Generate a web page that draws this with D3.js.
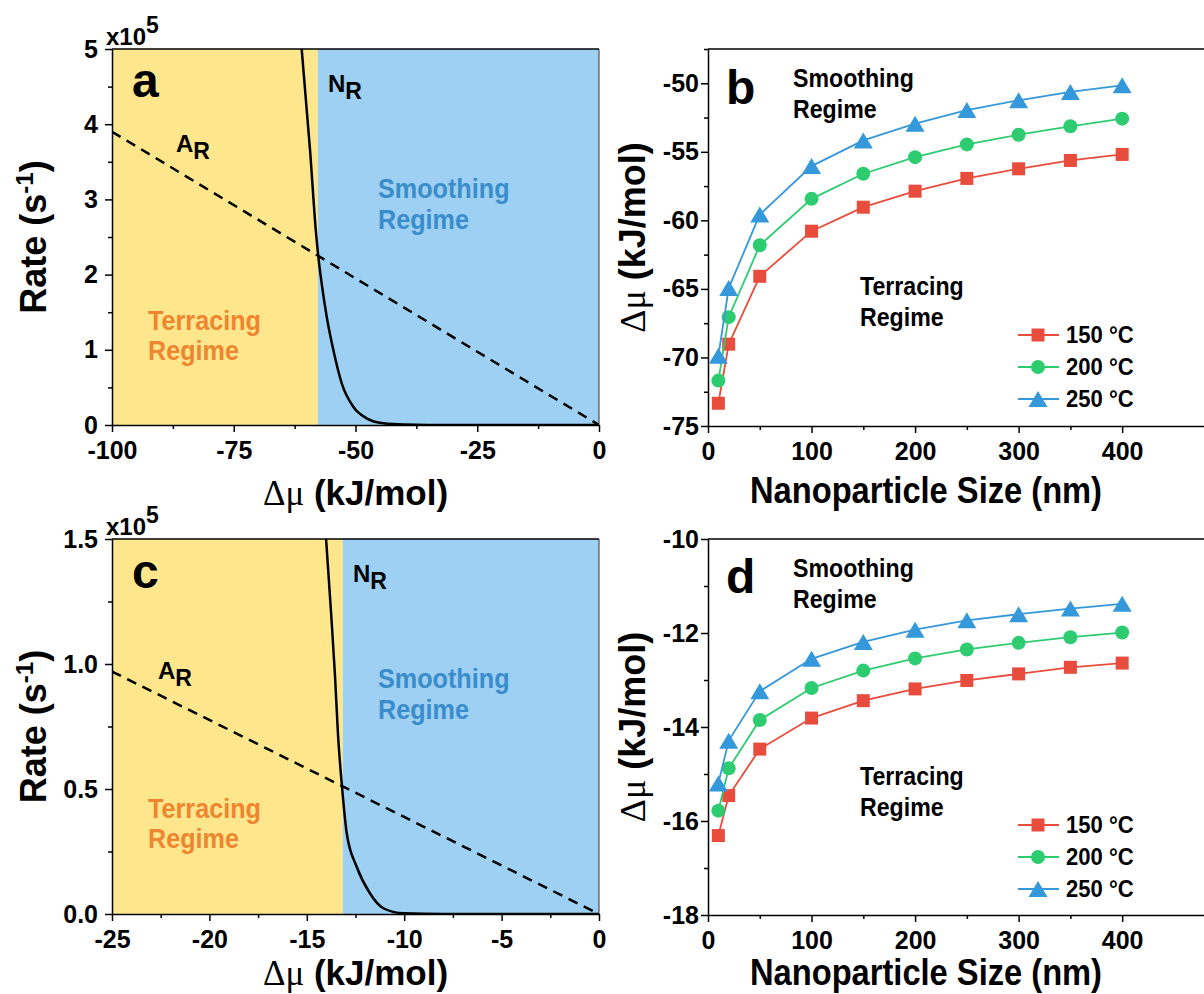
<!DOCTYPE html>
<html>
<head>
<meta charset="utf-8">
<script src="https://cdn.jsdelivr.net/npm/d3@7"></script>
<style>
  body { margin: 0; background: #fff; }
  svg text { font-family: "Liberation Sans", Arial, sans-serif; font-weight: bold; }
  .axis path, .axis line { stroke: #000; stroke-width: 1.5; }
  .axis text { font-size: 25px; fill: #000; }
  .ar-line { fill: none; stroke: #000; stroke-width: 2.5; stroke-dasharray: 10,7; }
  .nr-line { fill: none; stroke: #000; stroke-width: 2.5; }
  .series-line { fill: none; stroke-width: 1.8; }
</style>
</head>
<body>
<svg id="fig" width="1204" height="994"></svg>
<script>
// --- data ---

// panel a: rates (x10^5 s-1) vs delta mu (kJ/mol)
const arA_mu = [-100, 0];
const arA_rate = [3.9, 0];
const nrA_mu = [-61.05, -59.34, -58.1, -57.6, -56.94, -55.91, -54.56, -52.83, -50.45, -47.7, -44.3, -40, -35, 0];
const nrA_rate = [5.0, 3.66, 2.55, 2.22, 1.88, 1.44, 1.0, 0.555, 0.243, 0.089, 0.023, 0.005, 0, 0];
const boundA = -57.75;

// panel c
const arC_mu = [-25, 0];
const arC_rate = [0.97, 0];
const nrC_mu = [-14.01, -13.75, -13.55, -13.4, -13.2, -12.95, -12.44, -11.76, -11.07, -10.05, -8, 0];
const nrC_rate = [1.5, 1.2, 0.95, 0.72, 0.516, 0.323, 0.189, 0.083, 0.023, 0.003, 0, 0];
const boundC = -13.15;

// panels b, d: critical delta mu vs nanoparticle size
const sizes = [10, 20, 50, 100, 150, 200, 250, 300, 350, 400];
const temps = ['150 °C', '200 °C', '250 °C'];
const b150 = [-73.34, -69.03, -64.08, -60.79, -59.04, -57.87, -56.94, -56.24, -55.63, -55.19];
const b200 = [-71.69, -67.06, -61.82, -58.43, -56.60, -55.39, -54.46, -53.75, -53.14, -52.58];
const b250 = [-69.88, -64.94, -59.58, -56.04, -54.17, -52.95, -51.95, -51.24, -50.63, -50.15];
const d150 = [-16.31, -15.46, -14.47, -13.81, -13.44, -13.19, -13.01, -12.87, -12.73, -12.64];
const d200 = [-15.78, -14.88, -13.85, -13.17, -12.80, -12.54, -12.35, -12.21, -12.09, -11.99];
const d250 = [-15.20, -14.29, -13.24, -12.55, -12.19, -11.93, -11.73, -11.60, -11.48, -11.38];

// ticks
const ticksA_x = [-100, -75, -50, -25, 0], minorA_x = [-87.5, -62.5, -37.5, -12.5];
const ticksA_y = [0, 1, 2, 3, 4, 5], minorA_y = [0.5, 1.5, 2.5, 3.5, 4.5];
const ticksC_x = [-25, -20, -15, -10, -5, 0], minorC_x = [-22.5, -17.5, -12.5, -7.5, -2.5];
const ticksC_y = [0, 0.5, 1.0, 1.5], minorC_y = [0.25, 0.75, 1.25];
const ticksSize = [0, 100, 200, 300, 400], minorSize = [50, 150, 250, 350];
const ticksB_y = [-75, -70, -65, -60, -55, -50], minorB_y = [-72.5, -67.5, -62.5, -57.5, -52.5, -47.5];
const ticksD_y = [-18, -16, -14, -12, -10], minorD_y = [-17, -15, -13, -11];

const YELLOW = '#fee68c', BLUE = '#9ed0f3';
const ORANGE_TXT = '#ee8631', BLUE_TXT = '#3a8dcb';
const SERIES_COLORS = ['#e74c3c', '#2ecc71', '#3498db'];

const svg = d3.select('#fig');

function addText(g, x, y, txt, size, fill, sx = 1) {
  return g.append('text')
    .attr('transform', `translate(${x},${y}) scale(${sx},1)`)
    .attr('font-size', size).attr('fill', fill)
    .text(txt);
}

function subLabel(g, x, y, main, sub) {
  const t = g.append('text').attr('x', x).attr('y', y).attr('font-size', 24);
  t.append('tspan').text(main);
  t.append('tspan').attr('dy', 7).attr('font-size', 23).text(sub);
}

function muTitle(t) {
  t.append('tspan').attr('font-family', '"Liberation Serif", serif').attr('font-weight', 'normal').text('Δμ');
  t.append('tspan').text(' (kJ/mol)');
}

function drawAxes(g, x, y, o) {
  const bottom = y.range()[0];
  const left = x.range()[0];
  g.append('g').attr('class', 'axis').attr('transform', `translate(0,${bottom})`)
    .call(d3.axisBottom(x).tickValues(o.xMinor).tickSize(4).tickFormat(''))
    .select('.domain').remove();
  g.append('g').attr('class', 'axis').attr('transform', `translate(0,${bottom})`)
    .call(d3.axisBottom(x).tickValues(o.xTicks).tickSize(7).tickSizeOuter(0)
      .tickPadding(9).tickFormat(d => String(d)));
  g.append('g').attr('class', 'axis').attr('transform', `translate(${left},0)`)
    .call(d3.axisLeft(y).tickValues(o.yMinor).tickSize(4).tickFormat(''))
    .select('.domain').remove();
  g.append('g').attr('class', 'axis').attr('transform', `translate(${left},0)`)
    .call(d3.axisLeft(y).tickValues(o.yTicks).tickSize(7).tickSizeOuter(0)
      .tickPadding(o.yPad).tickFormat(o.yFormat));
}

function rateChart(o) {
  const g = svg.append('g');
  const x = d3.scaleLinear().domain(o.xDomain).range([112, 599]);
  const y = d3.scaleLinear().domain(o.yDomain).range(o.yRange);
  const L = x.range()[0], R = x.range()[1], T = y.range()[1], B = y.range()[0];

  g.append('rect').attr('x', L).attr('y', T)
    .attr('width', x(o.bound) - L).attr('height', B - T).attr('fill', YELLOW);
  g.append('rect').attr('x', x(o.bound)).attr('y', T)
    .attr('width', R - x(o.bound)).attr('height', B - T).attr('fill', BLUE);

  const clipId = 'clip' + o.letter;
  g.append('clipPath').attr('id', clipId)
    .append('rect').attr('x', L).attr('y', T - 1).attr('width', R - L).attr('height', B - T + 2);

  const arData = o.arMu.map((m, i) => [m, o.arRate[i]]);
  const nrData = o.nrMu.map((m, i) => [m, o.nrRate[i]]);

  g.append('path').datum(arData).attr('class', 'ar-line').attr('clip-path', `url(#${clipId})`)
    .attr('d', d3.line().x(d => x(d[0])).y(d => y(d[1])));
  g.append('path').datum(nrData).attr('class', 'nr-line').attr('clip-path', `url(#${clipId})`)
    .attr('d', d3.line().curve(d3.curveMonotoneX).x(d => x(d[0])).y(d => y(d[1])));

  // frame
  g.append('line').attr('x1', L).attr('x2', R).attr('y1', T).attr('y2', T)
    .attr('stroke', '#000').attr('stroke-width', 1.5);
  g.append('line').attr('x1', R).attr('x2', R).attr('y1', T).attr('y2', B)
    .attr('stroke', '#333').attr('stroke-width', 1);

  drawAxes(g, x, y, o);

  // labels
  addText(g, L + 20, T + o.letterY, o.letter, 48, '#000');
  subLabel(g, L + o.nrPos[0], T + o.nrPos[1], 'N', 'R');
  subLabel(g, L + o.arPos[0], T + o.arPos[1], 'A', 'R');
  addText(g, L + 36, T + o.terrY, 'Terracing', 28, ORANGE_TXT, 0.9);
  addText(g, L + 36, T + o.terrY + 30, 'Regime', 28, ORANGE_TXT, 0.9);
  addText(g, L + 266, T + o.smoothY, 'Smoothing', 28, BLUE_TXT, 0.9);
  addText(g, L + 266, T + o.smoothY + 31, 'Regime', 28, BLUE_TXT, 0.9);

  const ex = g.append('text').attr('x', L - 6).attr('y', T - 4)
    .attr('font-size', 24).attr('font-weight', 'normal');
  ex.append('tspan').text('x10');
  ex.append('tspan').attr('dy', -12).attr('font-size', 23).text('5');

  // axis titles
  const xt = g.append('text').attr('x', (L + R) / 2).attr('y', B + o.xTitleDy)
    .attr('text-anchor', 'middle').attr('font-size', 35);
  muTitle(xt);
  const yt = g.append('text').attr('transform', `translate(46,${(T + B) / 2}) rotate(-90)`)
    .attr('text-anchor', 'middle').attr('font-size', 36);
  yt.append('tspan').text('Rate (s');
  yt.append('tspan').attr('dy', -13).attr('font-size', 24).text('-1');
  yt.append('tspan').attr('dy', 13).text(')');
}

function trianglePath(w, h) {
  return `M0,${-h / 2}L${w / 2},${h / 2}L${-w / 2},${h / 2}Z`;
}

function drawMarker(g, kind, cx, cy, color) {
  if (kind === 0) {
    g.append('rect').attr('x', cx - 6.5).attr('y', cy - 6.5).attr('width', 13).attr('height', 13).attr('fill', color);
  } else if (kind === 1) {
    g.append('circle').attr('cx', cx).attr('cy', cy).attr('r', 7).attr('fill', color);
  } else {
    g.append('path').attr('transform', `translate(${cx},${cy})`).attr('d', trianglePath(19, 16)).attr('fill', color);
  }
}

function regimeChart(o) {
  const g = svg.append('g');
  const x = d3.scaleLinear().domain([0, 480]).range([708, 1205]);
  const y = d3.scaleLinear().domain(o.yDomain).range(o.yRange);
  const L = x.range()[0], R = x.range()[1], T = y.range()[1], B = y.range()[0];

  g.append('line').attr('x1', L).attr('x2', R).attr('y1', T).attr('y2', T)
    .attr('stroke', '#000').attr('stroke-width', 1.5);

  drawAxes(g, x, y, o);

  const lineGen = d3.line().x(d => x(d[0])).y(d => y(d[1]));
  o.series.forEach((vals, k) => {
    const data = sizes.map((s, i) => [s, vals[i]]);
    g.append('path').datum(data).attr('class', 'series-line')
      .attr('stroke', SERIES_COLORS[k]).attr('d', lineGen);
    data.forEach(d => drawMarker(g, k, x(d[0]), y(d[1]), SERIES_COLORS[k]));
  });

  addText(g, L + 18, T + o.letterY, o.letter, 48, '#000');
  addText(g, L + 85, T + 38, 'Smoothing', 26, '#000', 0.89);
  addText(g, L + 85, T + 69, 'Regime', 26, '#000', 0.89);
  addText(g, L + 152, T + 246, 'Terracing', 26, '#000', 0.89);
  addText(g, L + 152, T + 277, 'Regime', 26, '#000', 0.89);

  temps.forEach((t, k) => {
    const ly = T + 286 + k * 32;
    g.append('line').attr('x1', L + 310).attr('x2', L + 351).attr('y1', ly).attr('y2', ly)
      .attr('stroke', SERIES_COLORS[k]).attr('stroke-width', 1.8);
    drawMarker(g, k, L + 330, ly, SERIES_COLORS[k]);
    addText(g, L + 358, ly + 8, t, 24, '#000', 0.92);
  });

  g.append('text').attr('x', 926).attr('y', B + o.xTitleDy).attr('text-anchor', 'middle')
    .attr('font-size', 36).attr('textLength', 352).attr('lengthAdjust', 'spacingAndGlyphs')
    .text('Nanoparticle Size (nm)');
  const yt = g.append('text').attr('transform', `translate(645,${(T + B) / 2}) rotate(-90)`)
    .attr('text-anchor', 'middle').attr('font-size', 36);
  muTitle(yt);
}

rateChart({
  letter: 'a', letterY: 48, xTitleDy: 80,
  xDomain: [-100, 0], yDomain: [0, 5], yRange: [425, 49],
  bound: boundA, arMu: arA_mu, arRate: arA_rate, nrMu: nrA_mu, nrRate: nrA_rate,
  xTicks: ticksA_x, xMinor: minorA_x, yTicks: ticksA_y, yMinor: minorA_y,
  yPad: 7, yFormat: d => String(d),
  nrPos: [216, 43], arPos: [64, 103], terrY: 281, smoothY: 149
});

rateChart({
  letter: 'c', letterY: 49, xTitleDy: 71,
  xDomain: [-25, 0], yDomain: [0, 1.5], yRange: [914, 539],
  bound: boundC, arMu: arC_mu, arRate: arC_rate, nrMu: nrC_mu, nrRate: nrC_rate,
  xTicks: ticksC_x, xMinor: minorC_x, yTicks: ticksC_y, yMinor: minorC_y,
  yPad: 7, yFormat: d => d.toFixed(1),
  nrPos: [241, 43], arPos: [46, 140], terrY: 279, smoothY: 149
});

regimeChart({
  letter: 'b', letterY: 55, xTitleDy: 77,
  yDomain: [-75, -47.5], yRange: [426, 49],
  series: [b150, b200, b250],
  xTicks: ticksSize, xMinor: minorSize, yTicks: ticksB_y, yMinor: minorB_y,
  yPad: 2, yFormat: d => String(d)
});

regimeChart({
  letter: 'd', letterY: 54, xTitleDy: 70,
  yDomain: [-18, -10], yRange: [915, 539],
  series: [d150, d200, d250],
  xTicks: ticksSize, xMinor: minorSize, yTicks: ticksD_y, yMinor: minorD_y,
  yPad: 2, yFormat: d => String(d)
});
</script>
</body>
</html>
